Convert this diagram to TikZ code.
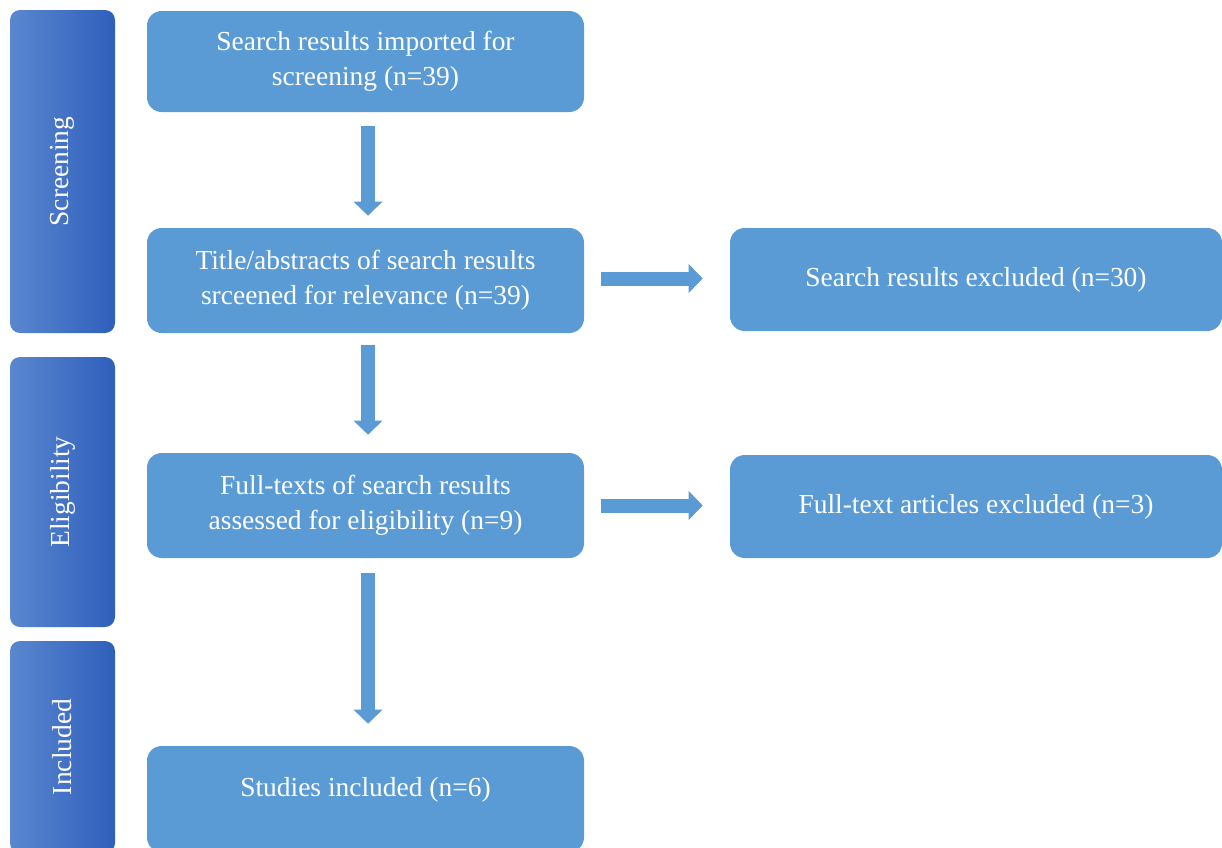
\documentclass[tikz,border=0pt]{standalone}
\usepackage{fontspec}
\setmainfont{Liberation Serif}
\usetikzlibrary{arrows.meta}

\definecolor{boxblue}{HTML}{5B9BD5}
\definecolor{barlight}{HTML}{5B87D0}
\definecolor{bardark}{HTML}{2E5FBB}

\begin{document}
\begin{tikzpicture}[
            x = 0.75pt, y = -0.75pt, % pixel grid, y going down
            > = {Triangle[length=10.5pt, width=21pt]}, % block arrow head
            flow/.style = {->, line width = 10.5pt, draw = boxblue}, % thick arrows
        ]

        \tikzstyle{box}=[
            rectangle,
            rounded corners = 11pt,
            fill = boxblue,
            text = white,
            align = center,
            font = \fontsize{20.6}{26.25}\selectfont,
            minimum width = 327.75pt,
            minimum height = 78.75pt
        ]
        \tikzstyle{stage}=[
            rectangle,
            rounded corners = 7.5pt,
            left color = barlight,
            right color = bardark,
            minimum width = 78.75pt
        ]
        \tikzstyle{stagetext}=[
            rotate = 90,
            text = white,
            font = \fontsize{20.6}{24}\selectfont
        ]

        \useasboundingbox (0,0) rectangle (1222,847);

        % stages on the left
        \node[stage, minimum height = 242.25pt,
              label = {[stagetext]center:Screening}] (screening) at (62.5,171.5) {};
        \node[stage, minimum height = 202.5pt,
              label = {[stagetext]center:Eligibility}] (eligibility) at (62.5,492) {};
        \node[stage, minimum height = 159pt,
              label = {[stagetext]center:Included}] (included) at (62.5,747) {};

        % main column
        \node[box, minimum height = 75.75pt] (imported) at (365.5,61.5)
            {Search results imported for\\screening (n=39)};
        \node[box] (screened) at (365.5,280.5)
            {Title/abstracts of search results\\srceened for relevance (n=39)};
        \node[box] (fulltext) at (365.5,505.5)
            {Full-texts of search results\\assessed for eligibility (n=9)};
        \node[box, minimum height = 79.5pt, text depth = 18pt] (studies) at (365.5,799)
            {Studies included (n=6)};

        % exclusions
        \node[box, minimum width = 369pt, minimum height = 77.25pt] (excluded) at (976,279.5)
            {Search results excluded (n=30)};
        \node[box, minimum width = 369pt, minimum height = 77.25pt] (articles) at (976,506.5)
            {Full-text articles excluded (n=3)};

        \draw[flow, shorten <= 10.5pt, shorten >= 9pt]
            ([xshift=1.9pt]imported.south) -- ([xshift=1.9pt]screened.north);
        \draw[flow, shorten <= 9pt, shorten >= 13.5pt]
            ([xshift=1.9pt]screened.south) -- ([xshift=1.9pt]fulltext.north);
        \draw[flow, shorten <= 11.25pt, shorten >= 16.5pt]
            ([xshift=1.9pt]fulltext.south) -- ([xshift=1.9pt]studies.north);
        \draw[flow, shorten <= 12.75pt, shorten >= 20.25pt]
            ([yshift=1.5pt]screened.east) -- ([yshift=1.5pt]screened.east -| excluded.west);
        \draw[flow, shorten <= 12.75pt, shorten >= 20.25pt]
            (fulltext.east) -- (fulltext.east -| articles.west);

  \end{tikzpicture}
\end{document}
